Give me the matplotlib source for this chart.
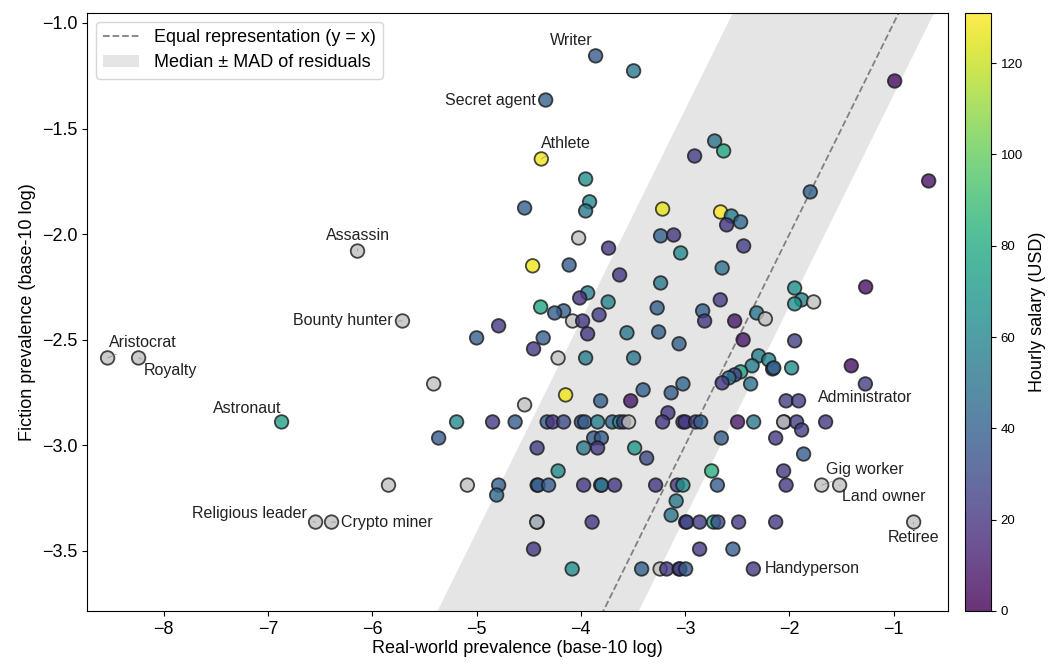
import numpy as np
import matplotlib.pyplot as plt
from matplotlib.patches import Patch
from matplotlib.lines import Line2D

plt.rcParams['font.family'] = ['Liberation Sans', 'DejaVu Sans']

# named occupations come first, the rest are unlabelled
names = ["Writer", "Secret agent", "Athlete", "Assassin", "Bounty hunter",
         "Aristocrat", "Royalty", "Astronaut", "Religious leader", "Crypto miner",
         "Administrator", "Gig worker", "Land owner", "Retiree", "Handyperson"]

nan = np.nan

real_log = [
    -3.858, -4.337, -4.379, -6.141, -5.710, -8.537, -8.240, -6.869, -6.543, -6.390,
    -1.272, -1.691, -1.519, -0.809, -2.346,
    -3.494, -0.991, -2.717, -2.631, -2.909, -3.954, -0.665, -1.800, -3.916, -3.954,
    -4.539, -3.216, -2.660, -2.557, -2.468, -2.602, -4.021, -3.235, -3.110, -2.439,
    -3.734, -3.043, -4.462, -4.112, -2.645, -3.628, -3.235, -1.950, -1.269, -3.935,
    -4.011, -3.738, -1.883, -1.950, -1.768, -2.663, -4.385, -4.165, -4.251, -3.825,
    -3.268, -2.832, -2.813, -2.525, -2.314, -2.231, -4.079, -3.983, -4.788, -4.999,
    -4.361, -3.935, -3.558, -3.254, -3.058, -2.444, -1.950, -4.453, -4.218, -3.954,
    -3.494, -2.295, -2.199, -2.358, -2.161, -2.150, -1.979, -1.407, -2.468, -2.525,
    -2.580, -2.645, -2.372, -3.021, -5.411, -3.403, -3.134, -4.146, -3.810, -3.522,
    -2.032, -1.912, -4.539, -3.165,
    -5.191, -4.846, -4.630, -4.323, -4.270, -4.165, -3.995, -3.964, -3.839, -3.698,
    -3.628, -3.590, -3.542, -3.216, -3.021, -3.000, -2.899, -2.851, -2.497, -2.343,
    -2.050, -2.056, -1.931, -1.883, -1.653,
    -5.363, -3.877, -3.803, -2.653, -2.132, -4.419, -3.973, -3.839, -3.484, -3.369,
    -1.864, -4.218, -2.746, -2.056,
    -5.844, -5.088, -4.788, -4.807, -4.419, -4.410, -4.309, -3.973, -3.810, -3.800,
    -3.676, -3.283, -3.075, -3.021, -2.691, -2.032, -3.086, -3.134,
    -4.419, -4.423, -3.892, -2.995, -2.985, -2.861, -2.727, -2.686, -2.487, -2.132,
    -4.453, -2.861, -2.542,
    -4.083, -3.417, -3.240, -3.177, -3.058, -3.050, -2.995,
]

fiction_log = [
    -1.156, -1.365, -1.644, -2.080, -2.411, -2.586, -2.586, -2.889, -3.363, -3.363,
    -2.709, -3.188, -3.188, -3.363, -3.585,
    -1.227, -1.275, -1.559, -1.606, -1.630, -1.739, -1.748, -1.800, -1.847, -1.890,
    -1.876, -1.881, -1.895, -1.914, -1.942, -1.956, -2.018, -2.008, -2.004, -2.056,
    -2.066, -2.089, -2.150, -2.146, -2.160, -2.193, -2.231, -2.255, -2.250, -2.278,
    -2.302, -2.321, -2.311, -2.330, -2.321, -2.311, -2.345, -2.363, -2.373, -2.382,
    -2.349, -2.363, -2.411, -2.411, -2.373, -2.401, -2.411, -2.411, -2.434, -2.491,
    -2.491, -2.472, -2.467, -2.463, -2.519, -2.500, -2.505, -2.543, -2.586, -2.586,
    -2.586, -2.576, -2.595, -2.623, -2.638, -2.633, -2.633, -2.623, -2.652, -2.666,
    -2.680, -2.704, -2.709, -2.709, -2.709, -2.737, -2.751, -2.761, -2.789, -2.789,
    -2.789, -2.789, -2.808, -2.846,
    -2.889, -2.889, -2.889, -2.889, -2.889, -2.889, -2.889, -2.889, -2.889, -2.889,
    -2.889, -2.889, -2.889, -2.889, -2.889, -2.889, -2.889, -2.889, -2.889, -2.889,
    -2.889, -2.889, -2.889, -2.927, -2.889,
    -2.965, -2.965, -2.965, -2.965, -2.965, -3.012, -3.012, -3.012, -3.012, -3.060,
    -3.041, -3.121, -3.121, -3.121,
    -3.188, -3.188, -3.188, -3.235, -3.188, -3.188, -3.188, -3.188, -3.188, -3.188,
    -3.188, -3.188, -3.188, -3.188, -3.188, -3.188, -3.263, -3.330,
    -3.363, -3.363, -3.363, -3.363, -3.363, -3.363, -3.363, -3.363, -3.363, -3.363,
    -3.491, -3.491, -3.491,
    -3.585, -3.585, -3.585, -3.585, -3.585, -3.585, -3.585,
]

salary = [
    38, 40, 128, nan, nan, nan, nan, 75, nan, nan,
    24, nan, nan, nan, 22,
    52, 6, 50, 78, 24, 65, 7, 40, 62, 52,
    40, 126, 131, 55, 45, 22, nan, 40, 22, 24,
    20, 62, 128, 38, 50, 22, 52, 66, 6, 55,
    20, 60, 58, 65, nan, 24, 78, 40, 38, 24,
    40, 40, 22, 8, 52, nan, nan, 22, 22, 40,
    40, 22, 52, 40, 40, 8, 24, 22, nan, 55,
    52, 56, 58, 55, 18, 45, 63, 6, 75, 24,
    50, 22, 50, 42, nan, 40, 38, 128, 40, 8,
    24, 24, nan, 22,
    62, 22, 38, 38, 20, 30, 30, 40, 55, 40,
    66, 22, nan, 22, 35, 18, 22, 40, 8, 52,
    24, nan, 24, 24, 22,
    38, 38, 38, 38, 22, 24, 52, 22, 70, 30,
    38, 62, 82, 22,
    nan, nan, 40, 45, 32, 40, 38, 22, 62, 45,
    22, 22, 22, 63, 38, 22, 52, 52,
    38, nan, 22, 15, 30, 22, 80, 30, 22, 22,
    22, 22, 40,
    65, 40, nan, 22, 30, 22, 38,
]

# median and MAD of the residuals (fiction - real)
resid_median = 0.625
resid_mad = 0.965

# label offsets in points: (dx, dy, horizontal alignment)
label_offsets = {
    "Writer": (-2, 11, "right"), "Secret agent": (-7, 0, "right"),
    "Athlete": (0, 11, "left"), "Assassin": (0, 11, "center"),
    "Bounty hunter": (-7, 0, "right"), "Aristocrat": (1, 11, "left"),
    "Royalty": (4, -9, "left"), "Astronaut": (0, 10, "right"),
    "Religious leader": (-6, 6, "right"), "Crypto miner": (7, 0, "left"),
    "Administrator": (0, -10, "center"), "Gig worker": (3, 11, "left"),
    "Land owner": (2, -8, "left"), "Retiree": (0, -11, "center"),
    "Handyperson": (8, 0, "left"),
}

x = np.array(real_log)
y = np.array(fiction_log)
c = np.array(salary, dtype=float)

fig = plt.figure(figsize=(10.54, 6.66), dpi=100)
ax = fig.add_axes([0.0825, 0.0826, 0.8169, 0.8979])
cax = fig.add_axes([0.9156, 0.0826, 0.0247, 0.8979])

xlim = (-8.735, -0.48)
ylim = (-3.784, -0.953)
xx = np.linspace(xlim[0] - 1, xlim[1] + 1, 200)
ax.fill_between(xx, xx + resid_median - resid_mad, xx + resid_median + resid_mad,
                color="0.5", alpha=0.2, lw=0, zorder=0)
ax.plot(xx, xx, ls="--", color="gray", lw=1.3, zorder=1)

cmap = plt.get_cmap("viridis").copy()
cmap.set_bad("silver")
sc = ax.scatter(x, y, c=c, cmap=cmap, vmin=0, vmax=np.nanmax(c), s=95,
                alpha=0.8, edgecolors="#1a1a1a", linewidths=1.3,
                plotnonfinite=True, zorder=3)

for i, name in enumerate(names):
    dx, dy, ha = label_offsets[name]
    ax.annotate(name, (x[i], y[i]), xytext=(dx, dy), textcoords="offset points",
                ha=ha, va="center", fontsize=11.5, color="#222222", zorder=4,
                arrowprops=dict(arrowstyle="-", color="gray", lw=0.4,
                                shrinkA=2, shrinkB=0))

ax.set_xlim(xlim)
ax.set_ylim(ylim)
ax.set_xticks(np.arange(-8, 0))
ax.set_yticks(np.arange(-3.5, -0.9, 0.5))
ax.tick_params(labelsize=13)
ax.set_xlabel("Real-world prevalence (base-10 log)", fontsize=13, labelpad=2)
ax.set_ylabel("Fiction prevalence (base-10 log)", fontsize=13)

handles = [Line2D([], [], ls="--", color="gray", lw=1.3),
           Patch(facecolor="0.5", alpha=0.2, edgecolor="none")]
ax.legend(handles, ["Equal representation (y = x)", "Median \u00b1 MAD of residuals"],
          loc="upper left", fontsize=13, framealpha=0.8, labelspacing=0.45)

cb = fig.colorbar(sc, cax=cax)
cb.set_ticks(np.arange(0, 130, 20))
cb.ax.tick_params(labelsize=9.5)
cb.set_label("Hourly salary (USD)", fontsize=13)
cb.outline.set_linewidth(0.8)

fig.savefig("out.png", dpi=100)
